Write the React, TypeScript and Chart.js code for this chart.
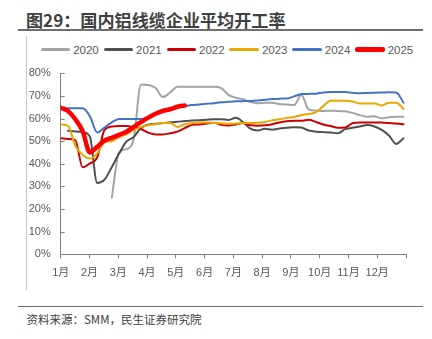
import React, { useEffect, useRef } from "react";
import { Chart, registerables } from "chart.js";

Chart.register(...registerables);

// ---------- data ----------
const monthLabels = ["1月", "2月", "3月", "4月", "5月", "6月", "7月", "8月", "9月", "10月", "11月", "12月"];
const yTickValues = [0, 10, 20, 30, 40, 50, 60, 70, 80];
// sampling positions (in months from Jan 1), ~weekly
const sampleCount = 48;
const samplePos = Array.from({ length: sampleCount }, (_, i) => i * 0.2535);

const s2020 = [null, null, null, null, null, null, null, 25, 45, 46.5, 51, 75, 74.8, 73.5, 69.5, 71.5, 74.1, 74.1, 74.1, 74.1, 74.1, 74.1, 73.5, 70.5, 69.2, 68.5, 67.3, 66.8, 67, 67, 66.4, 66.2, 66, 70.4, 64, 63.5, 63.3, 63.5, 63.3, 63.2, 62.5, 61.5, 60.8, 61, 60.1, 60.6, 60.8, 60.8];
const s2021 = [null, 54.6, 54.3, 54, 52, 31.5, 33, 38.5, 44.5, 49.8, 51.8, 55.8, 57.3, 57.7, 58, 58.4, 58.6, 58.9, 59.1, 59.3, 59.5, 59.7, 59.7, 59.4, 60.3, 58.4, 55.5, 54.7, 55.5, 55.1, 55.6, 55.9, 56.2, 56, 54.7, 54.2, 54, 53.8, 53.5, 55.3, 55.9, 56.5, 57.1, 56.5, 55, 52.5, 48.8, 51.3];
const s2022 = [51.3, 51, 50.5, 38.5, 40.2, 42.8, 55, 56.5, 56.7, 56.7, 56.2, 55.4, 53.8, 53, 53, 53.5, 54.2, 55.8, 57.2, 57.4, 57.8, 58.1, 57.2, 56.9, 57.4, 58, 57, 56.8, 57, 57.5, 58.3, 58.8, 59, 59, 59.5, 58.5, 57.4, 56.7, 55.9, 56, 57.9, 58.2, 58.2, 58.2, 58.2, 58, 57.8, 57.5];
const s2023 = [57.4, 56.8, 48, 44, 42.3, 44.5, 49.5, 50, 51.8, 53, 55, 56.2, 57, 57.5, 58, 58, 56.3, 57.5, 58, 58.2, 58.2, 58, 57.9, 57.7, 57.8, 58, 58, 58.1, 58.5, 59.2, 59.7, 60.3, 60.7, 61.5, 62, 62.8, 65.5, 67.9, 67.9, 67.9, 67.5, 66.7, 66.7, 66.7, 65.8, 67, 67, 64.2];
const s2024 = [64.5, 64.5, 64.5, 64.5, 61, 53.8, 56, 58.3, 59.8, 59.8, 59.8, 59.8, 60.5, 62, 63.5, 64.3, 65, 65.5, 66, 66.2, 66.5, 66.8, 67.2, 67.4, 67.6, 67.7, 67.8, 68, 68.3, 68.6, 68.8, 68.9, 69.8, 70.8, 70.9, 71, 71.5, 71.7, 71.7, 71.7, 71.4, 71.2, 71.3, 71.4, 71.5, 71.6, 71.5, 67];
const s2025 = [64.8, 63.3, 59.7, 54.5, 45, 47.5, 50.3, 51.5, 52.8, 54.2, 56.3, 58.4, 60.4, 62.1, 63.4, 64.1, 65.2, 65.8, null, null, null, null, null, null, null, null, null, null, null, null, null, null, null, null, null, null, null, null, null, null, null, null, null, null, null, null, null, null];

const seriesNames = ["2020", "2021", "2022", "2023", "2024", "2025"];
const seriesData = [s2020, s2021, s2022, s2023, s2024, s2025];
const seriesColors = ["#A3A3A3", "#505050", "#CC0000", "#E9A800", "#4472C4", "#FF0000"];
const seriesWidths = [2, 2, 2, 2, 2, 4.5];

const axisColor = "#7F7F7F";
const textColor = "#595959";
const fontFamily = "'Liberation Sans', 'Noto Sans CJK SC', sans-serif";

export default function App() {
  const canvasRef = useRef<HTMLCanvasElement>(null);

  useEffect(() => {
    document.body.style.margin = "0";
    const canvas = canvasRef.current;
    if (!canvas) return;

    const datasets = seriesNames
      .map((name, k) => ({
        label: name,
        data: seriesData[k].map((v, i) => ({ x: samplePos[i], y: v })),
        borderColor: seriesColors[k],
        backgroundColor: seriesColors[k],
        borderWidth: seriesWidths[k],
        pointRadius: 0,
        cubicInterpolationMode: "monotone" as const,
        spanGaps: false,
        borderCapStyle: "round" as const,
        borderJoinStyle: "round" as const,
      }))
      .reverse(); // first dataset drawn on top -> 2025 on top

    const innerTicks = {
      id: "innerTicks",
      afterDraw(chart: any) {
        const y = chart.scales.y;
        const ctx = chart.ctx;
        ctx.save();
        ctx.strokeStyle = axisColor;
        ctx.lineWidth = 1;
        y.ticks.forEach((t: any) => {
          const py = Math.round(y.getPixelForValue(t.value)) + 0.5;
          ctx.beginPath();
          ctx.moveTo(y.right, py);
          ctx.lineTo(y.right + 4, py);
          ctx.stroke();
        });
        ctx.restore();
      },
    };

    const chart = new Chart(canvas, {
      type: "line",
      data: { datasets },
      options: {
        animation: false,
        responsive: false,
        layout: { padding: { left: 0, right: 26, top: 37.3, bottom: 0 } },
        plugins: { legend: { display: false }, tooltip: { enabled: false } },
        scales: {
          x: {
            type: "linear",
            min: 0,
            max: 12,
            afterBuildTicks: (s: any) => {
              s.ticks = Array.from({ length: 13 }, (_, i) => ({ value: i }));
            },
            afterFit: (s: any) => {
              s.height = 37.7;
            },
            ticks: {
              autoSkip: false,
              maxRotation: 0,
              padding: 8,
              color: textColor,
              font: { family: fontFamily, size: 11 },
              callback: (v: any) => (v < 12 ? monthLabels[v] : ""),
            },
            grid: { drawOnChartArea: false, drawTicks: true, tickLength: 4, color: axisColor },
            border: { color: axisColor, width: 1 },
          },
          y: {
            min: 0,
            max: 80,
            afterBuildTicks: (s: any) => {
              s.ticks = yTickValues.map((v) => ({ value: v }));
            },
            afterFit: (s: any) => {
              s.width = 32.7;
            },
            ticks: {
              padding: 10,
              color: textColor,
              font: { family: fontFamily, size: 11 },
              callback: (v: any) => v + "%",
            },
            grid: { drawOnChartArea: false, drawTicks: false },
            border: { color: axisColor, width: 1 },
          },
        },
      },
      plugins: [innerTicks],
    });

    return () => chart.destroy();
  }, []);

  return (
    <div
      style={{
        position: "fixed",
        left: 0,
        top: 0,
        width: 432,
        height: 339,
        background: "#fff",
        overflow: "hidden",
        fontFamily,
      }}
    >
      <div
        style={{
          position: "absolute",
          left: 26,
          top: 11,
          fontSize: 17.1,
          lineHeight: "18px",
          fontWeight: 700,
          color: "#404040",
          fontFamily: "'Noto Sans CJK SC', sans-serif",
          whiteSpace: "nowrap",
        }}
      >
        图29：国内铝线缆企业平均开工率
      </div>
      <div style={{ position: "absolute", left: 18, top: 29, width: 405, height: 2, background: "#6E6E6E" }} />
      <div style={{ position: "absolute", left: 26, top: 36, width: 1, height: 254, background: "#C8C8C8" }} />

      {seriesNames.map((name, k) => (
        <div
          key={name}
          style={{
            position: "absolute",
            left: 40.7 + k * 62.9,
            top: 41,
            height: 17,
            display: "flex",
            alignItems: "center",
            whiteSpace: "nowrap",
          }}
        >
          <div style={{ width: 29.5, height: seriesWidths[k] + 0.5, background: seriesColors[k], borderRadius: 2 }} />
          <span style={{ marginLeft: 3, fontSize: 11.5, color: textColor, fontFamily }}>{name}</span>
        </div>
      ))}

      <div style={{ position: "absolute", left: 28, top: 36, width: 404, height: 256 }}>
        <canvas ref={canvasRef} width={404} height={256} />
      </div>

      <div style={{ position: "absolute", left: 18, top: 305.5, width: 405, height: 1.5, background: "#6E6E6E" }} />
      <div
        style={{
          position: "absolute",
          left: 26.5,
          top: 312,
          fontSize: 11.5,
          lineHeight: "15px",
          color: "#404040",
          fontFamily: "'Noto Sans CJK SC', sans-serif",
          whiteSpace: "nowrap",
        }}
      >
        资料来源：SMM，民生证券研究院
      </div>
    </div>
  );
}
